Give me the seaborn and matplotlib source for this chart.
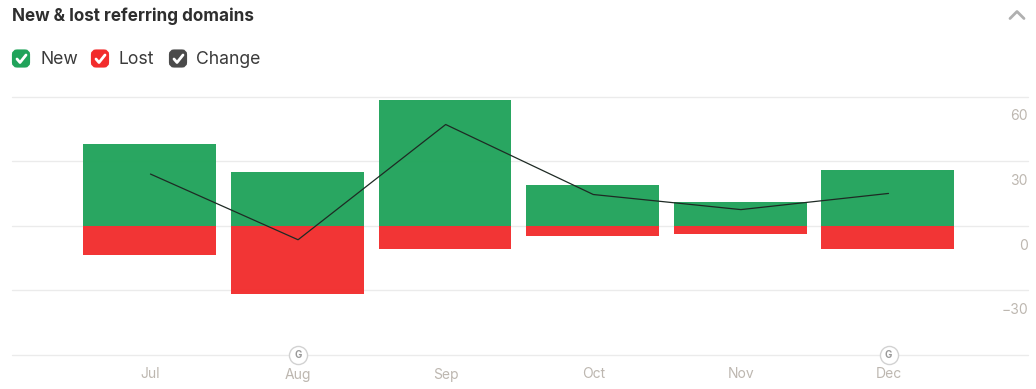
import matplotlib
matplotlib.use('Agg')
import matplotlib.pyplot as plt
from matplotlib.patches import FancyBboxPatch
from matplotlib.transforms import ScaledTranslation
import pandas as pd
import seaborn as sns

months = ['Jul', 'Aug', 'Sep', 'Oct', 'Nov', 'Dec']
new_domains = [38, 25, 58.5, 19, 11, 26]
lost_domains = [-13.5, -31.5, -10.7, -4.6, -3.7, -10.7]
change = [24, -6.5, 47, 14.5, 7.5, 15]
y_ticks = [60, 30, 0, -30, -60]
y_labels = ['60', '30', '0', '\u221230', '']
update_months = ['Aug', 'Dec']

GREEN = '#20A35A'
RED = '#F22C2C'
DARK = '#4A4A4A'
GRID = '#EBEBEB'
TICK = '#BDB7B0'
W, H = 1036, 389

sns.set_theme(style='white')
plt.rcParams['font.family'] = ['Inter', 'DejaVu Sans']

df = pd.DataFrame({'month': months, 'new': new_domains, 'lost': lost_domains, 'change': change})

fig = plt.figure(figsize=(W / 100, H / 100), dpi=100)
ax = fig.add_axes([12 / W, 1 - 355 / H, 1016 / W, 258.5 / H])

sns.barplot(data=df, x='month', y='new', color=GREEN, saturation=1, width=0.9, alpha=0.96,
            linewidth=0, edgecolor='none', ax=ax, zorder=2)
sns.barplot(data=df, x='month', y='lost', color=RED, saturation=1, width=0.9, alpha=0.96,
            linewidth=0, edgecolor='none', ax=ax, zorder=2)
sns.lineplot(data=df, x='month', y='change', color='#1E2A24', lw=0.9, ax=ax, zorder=3)

# bars sit a pixel left of the line points in the original
for p in ax.patches:
    p.set_x(p.get_x() - 0.005)

ax.set_xlim(-0.938, 5.945)
ax.set_ylim(-60, 60)
ax.set_xlabel('')
ax.set_ylabel('')
for s in ax.spines.values():
    s.set_visible(False)
ax.set_axisbelow(True)
ax.yaxis.grid(True, color=GRID, lw=1)
ax.xaxis.grid(False)

ax.set_yticks(y_ticks)
ax.set_yticklabels(y_labels)
ax.yaxis.tick_right()
ax.tick_params(axis='y', length=0, pad=0, labelsize=10, labelcolor=TICK)
ax.tick_params(axis='x', length=0, pad=9, labelsize=10, labelcolor=TICK)
for gl in ax.get_ygridlines():
    gl.set_clip_on(False)
# the labels sit under their gridlines, not on them
shift = ScaledTranslation(0, -18.5 / 100, fig.dpi_scale_trans)
for lab in ax.get_yticklabels():
    lab.set_ha('right')
    lab.set_transform(lab.get_transform() + shift)

# G markers on the bottom line
for m in update_months:
    i = months.index(m)
    ax.scatter([i], [-60], s=170, facecolor='white', edgecolor='#D2D2D2', lw=1, clip_on=False, zorder=5)
    ax.text(i, -60, 'G', ha='center', va='center', fontsize=7, fontweight='bold', color='#9A9A9A', zorder=6)

fig.text(12 / W, 1 - 16 / H, 'New & lost referring domains', fontsize=12.3, fontweight='bold',
         color='#2E2E2E', va='center')

# chevron
fig.add_artist(plt.Line2D([1010 / W, 1017 / W, 1024 / W], [1 - 18.5 / H, 1 - 11.5 / H, 1 - 18.5 / H],
                          color='#B0B0B0', lw=2))

# checkbox legend
for x0, colour, text, tx in [(12, GREEN, 'New', 40), (91, RED, 'Lost', 119), (169, DARK, 'Change', 196)]:
    fig.add_artist(FancyBboxPatch(((x0 + 2) / W, 1 - 65.5 / H), 14 / W, 14 / H,
                                  boxstyle='round,pad=0,rounding_size=0.003', mutation_aspect=W / H,
                                  fc=colour, ec=colour, lw=3, transform=fig.transFigure))
    fig.add_artist(plt.Line2D([(x0 + 5) / W, (x0 + 8) / W, (x0 + 14) / W],
                              [1 - 59 / H, 1 - 62.5 / H, 1 - 55 / H], color='white', lw=2))
    fig.text(tx / W, 1 - 59.5 / H, text, fontsize=12.7, color='#3A3A3A', va='center')

fig.savefig('out.png', dpi=100)
